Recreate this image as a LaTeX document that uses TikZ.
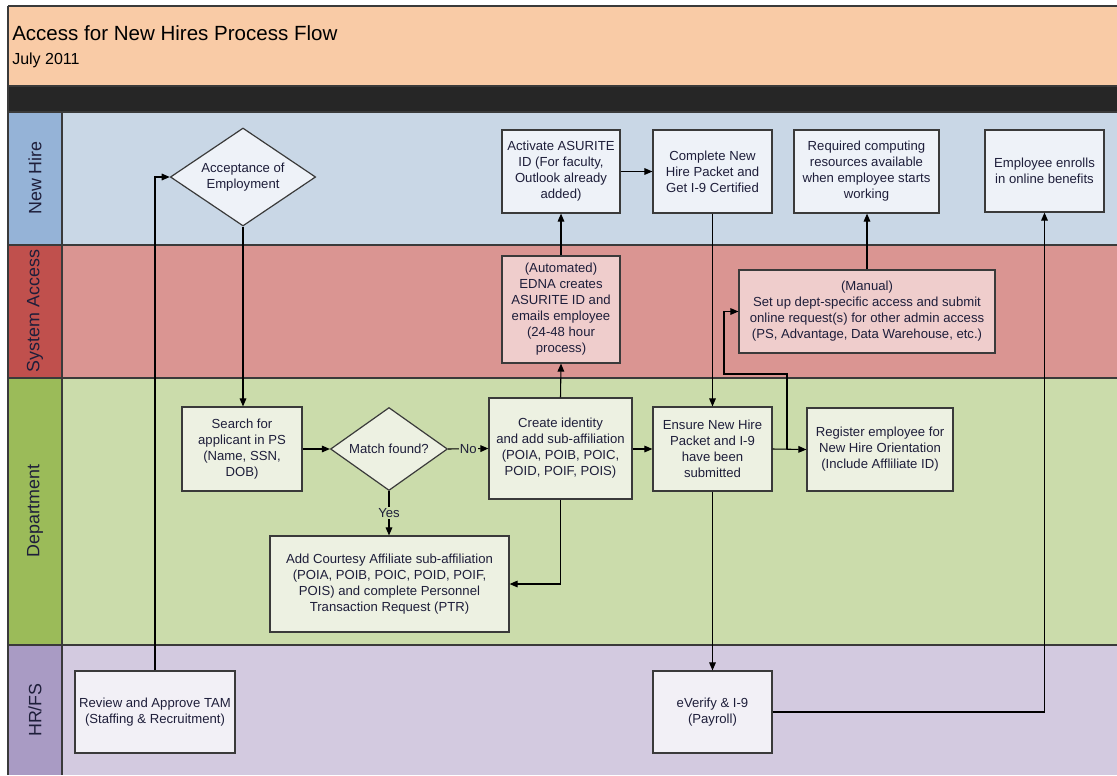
\documentclass[tikz,border=0pt]{standalone}
\usepackage{fontspec}
\setmainfont{Liberation Sans}
\usetikzlibrary{shapes.geometric,arrows.meta}
\definecolor{peach}{HTML}{F9CBA6}
\definecolor{band}{HTML}{262626}
\definecolor{nhlab}{HTML}{95B3D7}
\definecolor{nhbody}{HTML}{C9D7E6}
\definecolor{nhfill}{HTML}{EEF2F8}
\definecolor{salab}{HTML}{C0504D}
\definecolor{sabody}{HTML}{DA9592}
\definecolor{safill}{HTML}{EFCDCC}
\definecolor{dplab}{HTML}{9BBB59}
\definecolor{dpbody}{HTML}{CBDCAB}
\definecolor{dpfill}{HTML}{EDF1E2}
\definecolor{hrlab}{HTML}{A99BC4}
\definecolor{hrbody}{HTML}{D3CAE0}
\definecolor{hrfill}{HTML}{F2F0F6}
\definecolor{edge}{HTML}{3A3A3A}
\definecolor{txt}{HTML}{1E1E3A}
\newcommand\bx[7]{\node[#6, minimum width={(#4-#2)*0.75pt}, minimum height={(#5-#3)*0.75pt}] (#1) at ({(#2+#4)/2},{(#3+#5)/2}) {#7};}
\begin{document}
\begin{tikzpicture}[x=0.75pt,y=-0.75pt,
  boxbase/.style={draw=edge, line width=0.9pt, align=center, inner sep=2pt, text=txt,
    font=\fontsize{9.85}{12}\selectfont},
  nhbox/.style={boxbase, fill=nhfill},
  sabox/.style={boxbase, fill=safill},
  dpbox/.style={boxbase, fill=dpfill},
  hrbox/.style={boxbase, fill=hrfill},
  dmd/.style={diamond, boxbase, inner sep=0pt},
  arr/.style={draw=black, line width=0.8pt, -{Triangle[length=6pt,width=5pt]}},
  conn/.style={draw=black, line width=0.8pt},
  lbl/.style={font=\fontsize{9.85}{12}\selectfont, text=txt, inner sep=1pt, fill=dpbody},
  lanelab/.style={rotate=90, font=\fontsize{13.4}{15}\selectfont, text=txt},
  sep/.style={draw=edge, line width=0.9pt}]
\useasboundingbox (0,0) rectangle (1117,775);
\fill[white] (0,0) rectangle (1117,775);
% header
\fill[peach] (8,6) rectangle (1117,86);
\fill[band] (8,86) rectangle (1117,112);
% lanes
\fill[nhlab] (8,112) rectangle (62,245);
\fill[nhbody] (62,112) rectangle (1117,245);
\fill[salab] (8,245) rectangle (62,378);
\fill[sabody] (62,245) rectangle (1117,378);
\fill[dplab] (8,378) rectangle (62,645);
\fill[dpbody] (62,378) rectangle (1117,645);
\fill[hrlab] (8,645) rectangle (62,775);
\fill[hrbody] (62,645) rectangle (1117,775);
\draw[sep] (8,6) -- (1117,6);
\draw[sep] (8,6) -- (8,775);
\draw[sep] (8,86) -- (1117,86);
\draw[sep] (8,112) -- (1117,112);
\draw[sep] (8,245) -- (1117,245);
\draw[sep] (8,378) -- (1117,378);
\draw[sep] (8,645) -- (1117,645);
\draw[sep] (62,112) -- (62,775);
% titles
\node[anchor=base west, font=\fontsize{15.4}{18}\selectfont, inner sep=0pt, text=black] (title) at (12,40) {Access for New Hires Process Flow};
\node[anchor=base west, font=\fontsize{12}{14}\selectfont, inner sep=0pt, text=black] (date) at (12,64) {July 2011};
\node[lanelab] (lnh) at (35,178) {New Hire};
\node[lanelab] (lsa) at (35,311) {System Access};
\node[lanelab] (ldp) at (35,511) {Department};
\node[lanelab] (lhr) at (35,710) {HR/FS};
% New Hire
\node[dmd, fill=nhfill, aspect=1.46, minimum width=109pt, minimum height=73.5pt] (acc) at (243,177) {Acceptance of\\Employment};
\bx{act}{502}{130}{620}{213}{nhbox}{Activate ASURITE\\ID (For faculty,\\Outlook already\\added)}
\bx{comp}{653}{130}{772}{213}{nhbox}{Complete New\\Hire Packet and\\Get I-9 Certified}
\bx{req}{794}{130}{939}{213}{nhbox}{Required computing\\resources available\\when employee starts\\working}
\bx{enr}{985}{130}{1104}{212}{nhbox}{Employee enrolls\\in online benefits}
% System Access
\bx{edna}{502}{256}{620}{363}{sabox}{(Automated)\\EDNA creates\\ASURITE ID and\\emails employee\\(24-48 hour\\process)}
\bx{man}{739}{270}{995}{353}{sabox}{(Manual)\\Set up dept-specific access and submit\\online request(s) for other admin access\\(PS, Advantage, Data Warehouse, etc.)}
% Department
\bx{search}{182}{407}{302}{491}{dpbox}{Search for\\applicant in PS\\(Name, SSN,\\DOB)}
\node[dmd, fill=dpfill, aspect=1.43, minimum width=87.75pt, minimum height=62.25pt] (match) at (389,449) {Match found?};
\bx{create}{489}{398}{632}{499}{dpbox}{Create identity\\and add sub-affiliation\\(POIA, POIB, POIC,\\POID, POIF, POIS)}
\bx{ensure}{653}{407}{772}{491}{dpbox}{Ensure New Hire\\Packet and I-9\\have been\\submitted}
\bx{reg}{807}{408}{953}{491}{dpbox}{Register employee for\\New Hire Orientation\\(Include Affliliate ID)}
\bx{add}{270}{536}{509}{632}{dpbox}{Add Courtesy Affiliate sub-affiliation\\(POIA, POIB, POIC, POID, POIF,\\POIS) and complete Personnel\\Transaction Request (PTR)}
% HR/FS
\bx{tam}{75}{671}{235}{753}{hrbox}{Review and Approve TAM\\(Staffing \& Recruitment)}
\bx{ever}{653}{671}{772}{753}{hrbox}{eVerify \& I-9\\(Payroll)}
% connectors
\draw[arr] (tam.north) |- (acc.west);
\draw[arr] (acc.south) -- (acc.south |- search.north);
\draw[arr] (search.east) -- (match.west);
\draw[arr] (match.east) -- node[lbl] (no) {No} (create.west);
\draw[arr] (match.south) -- node[lbl] (yes) {Yes} (match.south |- add.north);
\draw[arr] (create.south) |- (add.east);
\draw[arr] (create.north) -- (edna.south);
\draw[arr] (edna.north) -- (act.south);
\draw[arr] (act.east) -- (act.east -| comp.west);
\draw[arr] (comp.south) -- (comp.south |- ensure.north);
\draw[arr] (create.east |- ensure.west) -- (ensure.west);
\draw[arr] (ensure.east) -- (reg.west);
\coordinate (br) at (787,449);
\coordinate (b1) at (787,374);
\coordinate (b2) at (724,374);
\coordinate (b3) at (724,311.5);
\draw[arr] (br) -- (b1) -- (b2) -- (b3) -- (man.west);
\draw[arr] (man.north) -- (man.north |- req.south);
\draw[arr] (ensure.south) -- (ever.north);
\draw[arr] (ever.east) -| (enr.south);
\end{tikzpicture}
\end{document}
